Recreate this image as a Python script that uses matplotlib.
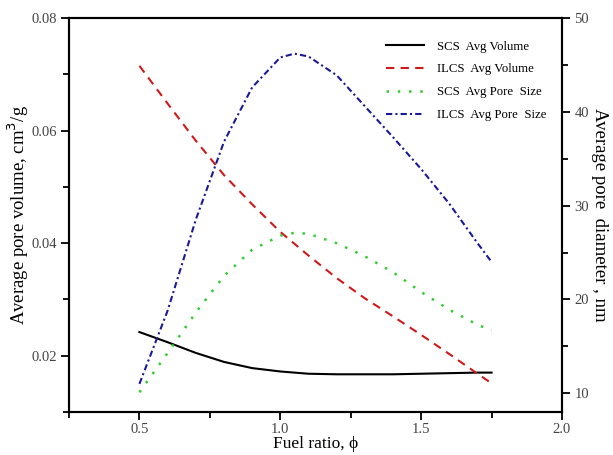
import matplotlib
matplotlib.use("Agg")
import matplotlib.pyplot as plt
from matplotlib.ticker import MultipleLocator

# Data
x_scs_vol = [0.5, 0.6, 0.7, 0.8, 0.9, 1.0, 1.1, 1.2, 1.3, 1.4, 1.5, 1.6, 1.7, 1.75]
scs_vol = [0.0242, 0.0224, 0.0205, 0.0189, 0.0178, 0.0172, 0.0168, 0.0167, 0.0167,
           0.0167, 0.0168, 0.0169, 0.0170, 0.0170]

x_ilcs_vol = [0.5, 0.6, 0.7, 0.8, 0.9, 1.0, 1.1, 1.2, 1.3, 1.4, 1.5, 1.6, 1.7, 1.75]
ilcs_vol = [0.0715, 0.0648, 0.0582, 0.0521, 0.0469, 0.0420, 0.0378, 0.0338, 0.0302,
            0.0270, 0.0237, 0.0203, 0.0168, 0.0151]

x_scs_pore = [0.5, 0.6, 0.7, 0.8, 0.9, 1.0, 1.05, 1.1, 1.2, 1.3, 1.4, 1.5, 1.6, 1.7, 1.75]
scs_pore = [10.1, 14.3, 18.6, 22.5, 25.3, 26.8, 27.1, 27.0, 26.0, 24.6, 22.9, 20.8,
            18.9, 17.3, 16.7]

x_ilcs_pore = [0.5, 0.6, 0.7, 0.8, 0.9, 1.0, 1.05, 1.1, 1.2, 1.3, 1.4, 1.5, 1.6, 1.7, 1.75]
ilcs_pore = [11.0, 18.8, 28.5, 36.8, 42.6, 45.8, 46.2, 45.9, 43.9, 40.6, 37.3, 33.9,
             30.2, 26.0, 24.0]

labels = ["SCS  Avg Volume", "ILCS  Avg Volume", "SCS  Avg Pore  Size", "ILCS  Avg Pore  Size"]

plt.rcParams['font.family'] = ['Liberation Serif', 'DejaVu Serif']

fig = plt.figure(figsize=(6.13, 4.55), dpi=100)
ax = fig.add_axes([0.1126, 0.0945, 0.8042, 0.8659])
ax2 = ax.twinx()

l1, = ax.plot(x_scs_vol, scs_vol, color='black', lw=1.5, ls='-')
l2, = ax.plot(x_ilcs_vol, ilcs_vol, color='#cc1a1a', lw=1.5, ls=(0, (4, 3)))
l3, = ax2.plot(x_scs_pore, scs_pore, color='#33cc33', lw=1.8, ls=(0, (1, 3.5)))
l4, = ax2.plot(x_ilcs_pore, ilcs_pore, color='#1a1a99', lw=1.5, ls=(0, (3, 1.5, 1, 1.5)))

ax.set_xlim(0.25, 2.0)
ax.set_ylim(0.01, 0.08)
ax2.set_ylim(8, 50)

ax.xaxis.set_major_locator(MultipleLocator(0.5))
ax.xaxis.set_minor_locator(MultipleLocator(0.25))
ax.yaxis.set_major_locator(MultipleLocator(0.02))
ax.yaxis.set_minor_locator(MultipleLocator(0.01))
ax2.yaxis.set_major_locator(MultipleLocator(10))
ax2.yaxis.set_minor_locator(MultipleLocator(5))

ax.set_xticks([0.5, 1.0, 1.5, 2.0])
ax.set_xticklabels(['0.5', '1.0', '1.5', '2.0'])
ax.set_yticks([0.02, 0.04, 0.06, 0.08])
ax.set_yticklabels(['0.02', '0.04', '0.06', '0.08'])

for a in (ax, ax2):
    for s in a.spines.values():
        s.set_linewidth(1.5)
    a.tick_params(which='major', direction='out', length=6, width=1.3,
                  labelsize=10.5, labelcolor='#444444')
    a.tick_params(which='minor', direction='out', length=4, width=1.3)
ax.tick_params(axis='x', top=False, pad=2)
ax.tick_params(axis='y', pad=3)
ax2.tick_params(axis='y', pad=3)

ax.set_xlabel('Fuel ratio, \u03d5', fontsize=12.5, labelpad=0)
ax.set_ylabel('Average pore volume, cm$^3$/g', fontsize=13.5, va='center')
ax.yaxis.set_label_coords(-0.103, 0.5)
ax2.set_ylabel('Average pore  diameter , nm', fontsize=13.5, rotation=270, va='center')
ax2.yaxis.set_label_coords(1.077, 0.5)

leg = ax.legend([l1, l2, l3, l4], labels, loc='upper right', bbox_to_anchor=(0.992, 0.972),
                frameon=False, fontsize=9.2, handlelength=3.0, labelspacing=0.85,
                handletextpad=1.0)

fig.savefig('out.png', dpi=100)
